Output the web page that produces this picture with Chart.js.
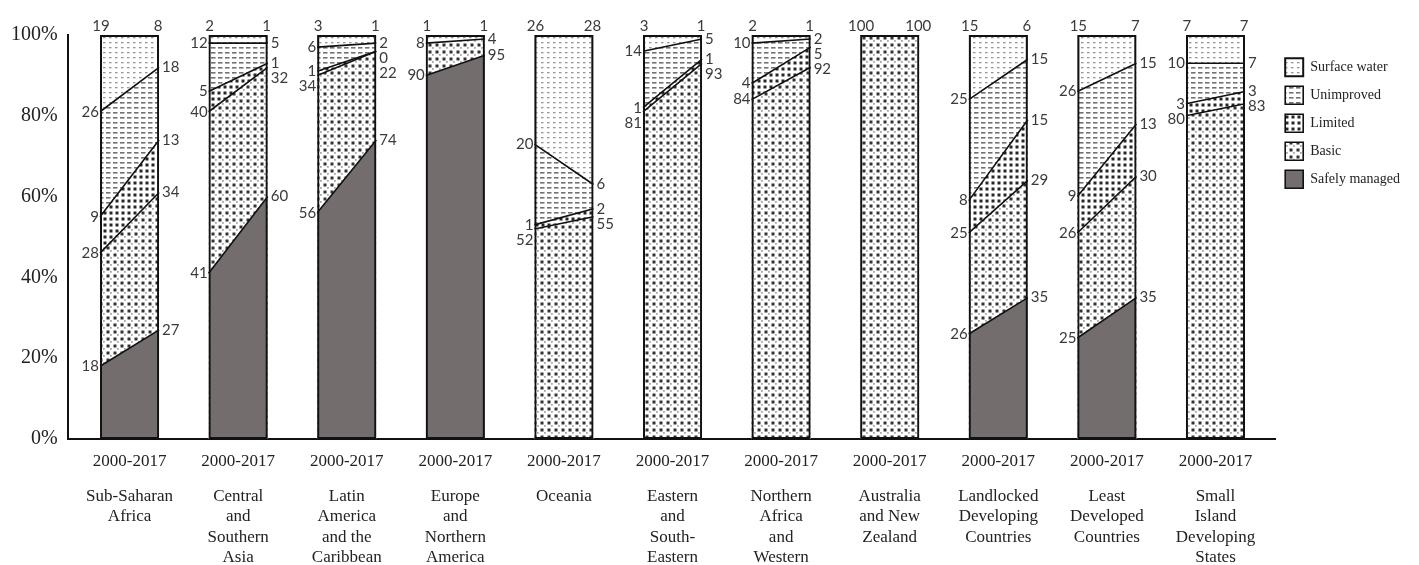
<!DOCTYPE html>
<html><head><meta charset="utf-8">
<script src="https://cdn.jsdelivr.net/npm/chart.js@4.4.1/dist/chart.umd.min.js"></script>
<style>
html,body{margin:0;padding:0;background:#fff;overflow:hidden;}
#wrap{position:relative;width:1419px;height:571px;}
</style></head><body>
<div id="wrap"><canvas id="c"></canvas></div>
<script>
// ---------- data ----------
const categories = [
  ['Sub-Saharan','Africa'],
  ['Central','and','Southern','Asia'],
  ['Latin','America','and the','Caribbean'],
  ['Europe','and','Northern','America'],
  ['Oceania'],
  ['Eastern','and','South-','Eastern'],
  ['Northern','Africa','and','Western'],
  ['Australia','and New','Zealand'],
  ['Landlocked','Developing','Countries'],
  ['Least','Developed','Countries'],
  ['Small','Island','Developing','States']
];
const periodLabel = '2000-2017';
const safely2000     = [18, 41, 56, 90, null, null, null, null, 26, 25, null];
const safely2017     = [27, 60, 74, 95, null, null, null, null, 35, 35, null];
const basic2000      = [28, 40, 34,  8,  52,  81,  84,  100, 25, 26, 80];
const basic2017      = [34, 32, 22,  4,  55,  93,  92,  100, 29, 30, 83];
const limited2000    = [ 9,  5,  1, null, 1,   1,   4, null,  8,  9,  3];
const limited2017    = [13,  1,  0, null, 2,   1,   5, null, 15, 13,  3];
const unimproved2000 = [26, 12,  6, null, 20, 14,  10, null, 25, 26, 10];
const unimproved2017 = [18,  5,  2, null,  6,  5,   2, null, 15, 15,  7];
const surface2000    = [19,  2,  3,  1,  26,   3,   2, null, 15, 15,  7];
const surface2017    = [ 8,  1,  1,  1,  28,   1,   1, null,  6,  7,  7];
const yTicks = [0, 20, 40, 60, 80, 100];
const TOTAL = 100;
const legendOrder = ['Surface water','Unimproved','Limited','Basic','Safely managed'];

// ---------- styles ----------
const N = categories.length;
const HW = 0.272;
const canvas = document.getElementById('c');
const mainCtx = canvas.getContext('2d');
function makePattern(w, h, draw) {
  const t = document.createElement('canvas');
  t.width = w; t.height = h;
  const g = t.getContext('2d');
  g.fillStyle = '#ffffff'; g.fillRect(0, 0, w, h);
  draw(g);
  return mainCtx.createPattern(t, 'repeat');
}
const P_SURF = makePattern(6, 5, g => { g.fillStyle = '#959595'; g.fillRect(1, 2, 2.5, 1.3); });
const P_UNIMP = makePattern(7, 5, g => { g.fillStyle = '#727272'; g.fillRect(1, 2, 4.5, 1.6); });
const P_LIM = makePattern(6, 6, g => { g.fillStyle = '#262626'; g.fillRect(1.5, 1.5, 3, 3); });
const P_BASIC = makePattern(7, 7, g => {
  g.fillStyle = '#333333'; g.fillRect(1.5, 1.5, 3, 3);
  g.fillStyle = '#a8a8a8'; g.fillRect(5, 5, 1.8, 1.8);
});
const SAFE = '#736e6d';

function series(a, b) {
  const pts = [];
  for (let i = 0; i < N; i++) {
    pts.push({x: i - HW, y: a[i]}, {x: i + HW, y: b[i]}, {x: i + 0.5, y: null});
  }
  return pts;
}
const frame = categories.map((_, i) => ({x: i, y: TOTAL}));

const lineBase = {type: 'line', stack: 'ladder', fill: 'origin', borderColor: '#111',
  borderWidth: 1.6, pointRadius: 0, pointHoverRadius: 0, tension: 0, order: 1, spanGaps: false};

// ---------- value labels ----------
const valuePlugin = {
  id: 'values',
  afterDatasetsDraw(chart) {
    const {ctx, scales: {x, y}} = chart;
    ctx.save();
    ctx.font = '15px Lato';
    ctx.fillStyle = '#3a3a3a';
    const layers = [[safely2000, safely2017], [basic2000, basic2017],
                    [limited2000, limited2017], [unimproved2000, unimproved2017]];
    const surf = [surface2000, surface2017];
    const topPx = y.getPixelForValue(TOTAL);
    const gap = 15;
    for (let i = 0; i < N; i++) {
      for (let side = 0; side < 2; side++) {
        const edge = x.getPixelForValue(side === 0 ? i - HW : i + HW);
        const drawTop = v => {
          ctx.textAlign = 'center'; ctx.textBaseline = 'alphabetic';
          ctx.fillText(String(v), edge + (side === 0 ? 1 : -1), topPx - 4);
        };
        let cum = 0;
        const items = [];
        layers.forEach(l => {
          const v = l[side][i];
          if (v == null) return;
          cum += v;
          if (cum >= TOTAL) { drawTop(v); return; }
          items.push({v, py: y.getPixelForValue(cum)});
        });
        items.reverse();
        let last = -Infinity;
        items.forEach(it => {
          let py = it.py;
          if (py < last + gap) py = last + gap;
          last = py;
          ctx.textBaseline = 'middle';
          if (side === 0) { ctx.textAlign = 'right'; ctx.fillText(String(it.v), edge - 1, py); }
          else { ctx.textAlign = 'left'; ctx.fillText(String(it.v), edge + 3, py); }
        });
        const s = surf[side][i];
        if (s != null) drawTop(s);
      }
    }
    ctx.restore();
  }
};

const serif = 'Liberation Serif';
new Chart(canvas, {
  type: 'line',
  data: {
    datasets: [
      {...lineBase, label: 'Safely managed', data: series(safely2000, safely2017), backgroundColor: SAFE},
      {...lineBase, label: 'Basic', data: series(basic2000, basic2017), backgroundColor: P_BASIC},
      {...lineBase, label: 'Limited', data: series(limited2000, limited2017), backgroundColor: P_LIM},
      {...lineBase, label: 'Unimproved', data: series(unimproved2000, unimproved2017), backgroundColor: P_UNIMP},
      {type: 'bar', label: 'Surface water', data: frame, backgroundColor: P_SURF, borderColor: '#111',
       borderWidth: 2, borderSkipped: false, stack: 'bg', grouped: false, order: 2,
       barPercentage: 2 * HW, categoryPercentage: 1},
      {type: 'bar', label: 'frame', data: frame, backgroundColor: 'rgba(0,0,0,0)', borderColor: '#111',
       borderWidth: 2, borderSkipped: false, stack: 'outline', grouped: false, order: 0,
       barPercentage: 2 * HW, categoryPercentage: 1}
    ]
  },
  options: {
    responsive: true,
    maintainAspectRatio: false,
    animation: false,
    events: [],
    layout: {padding: {left: 1, top: 35, right: 9, bottom: 0}},
    plugins: {
      tooltip: {enabled: false},
      legend: {
        position: 'right', align: 'start',
        title: {display: true, text: ' ', font: {size: 1}, padding: {top: 12, bottom: 0}},
        labels: {
          filter: item => legendOrder.includes(item.text),
          sort: (a, b) => legendOrder.indexOf(a.text) - legendOrder.indexOf(b.text),
          boxWidth: 18, boxHeight: 18, padding: 10, color: '#222',
          font: {family: serif, size: 14}
        }
      }
    },
    scales: {
      x: {
        type: 'linear', min: -0.57, max: 10.55, offset: false, weight: 0,
        afterBuildTicks: s => { s.ticks = categories.map((_, i) => ({value: i})); },
        ticks: {callback: () => periodLabel, font: {family: serif, size: 17}, color: '#222',
                padding: 12, maxRotation: 0, autoSkip: false},
        grid: {display: false, drawTicks: false, offset: false},
        border: {display: true, color: '#111', width: 2}
      },
      x2: {
        type: 'linear', position: 'bottom', min: -0.57, max: 10.55, offset: false, weight: 1,
        afterBuildTicks: s => { s.ticks = categories.map((_, i) => ({value: i})); },
        ticks: {callback: (v, idx) => categories[idx], font: {family: serif, size: 17, lineHeight: 1.2},
                color: '#222', padding: 3, maxRotation: 0, autoSkip: false},
        grid: {display: false, drawTicks: false},
        border: {display: false}
      },
      y: {
        stacked: true, min: 0, max: TOTAL,
        afterBuildTicks: s => { s.ticks = yTicks.map(v => ({value: v})); },
        ticks: {callback: v => v + '%', font: {family: serif, size: 20}, color: '#222', padding: 10},
        grid: {display: false, drawTicks: false},
        border: {display: true, color: '#111', width: 2}
      }
    }
  },
  plugins: [valuePlugin]
});
</script>
</body></html>
